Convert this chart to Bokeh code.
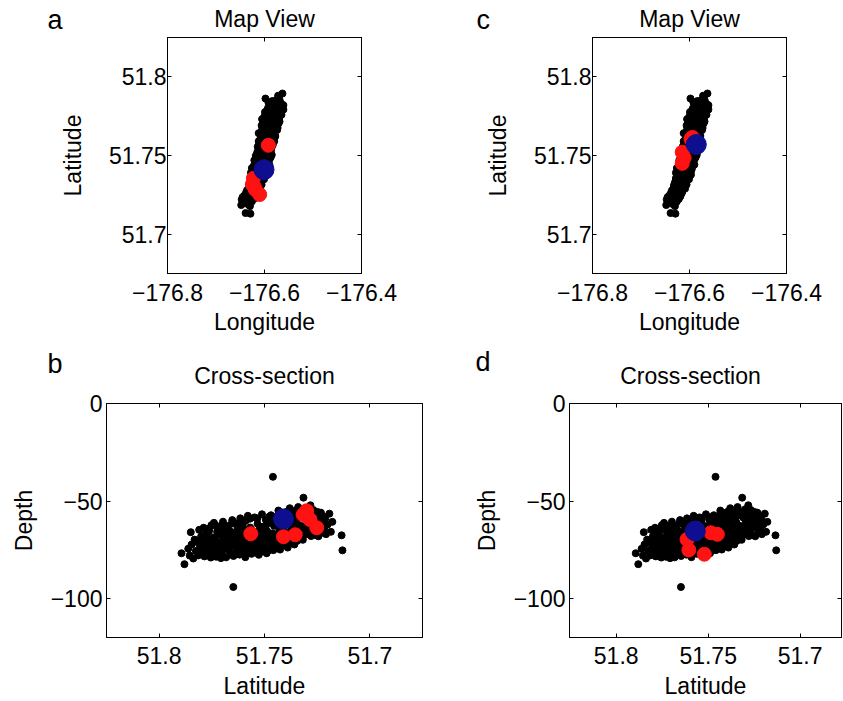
from bokeh.plotting import figure
from bokeh.layouts import column, row
from bokeh.models import Range1d, FixedTicker, LinearAxis, CustomJSTickFormatter, Label
from bokeh.embed import file_html
from bokeh.resources import INLINE

FONT = "Liberation Sans"

# ---- background catalogue: latitude, longitude, depth (km, negative down) ----
lat = [
    51.7894, 51.7880, 51.7862, 51.7855, 51.7850, 51.7846, 51.7838, 51.7832, 51.7826, 51.7820, 51.7815, 51.7810,
    51.7806, 51.7801, 51.7797, 51.7792, 51.7789, 51.7785, 51.7781, 51.7778, 51.7774, 51.7770, 51.7766, 51.7763,
    51.7759, 51.7755, 51.7752, 51.7750,
    51.7746, 51.7743, 51.7740, 51.7736, 51.7733, 51.7729, 51.7725, 51.7722, 51.7718, 51.7715, 51.7711, 51.7708,
    51.7704, 51.7700, 51.7697, 51.7693, 51.7690, 51.7686, 51.7682, 51.7679, 51.7675, 51.7671, 51.7668, 51.7664,
    51.7660, 51.7657, 51.7653, 51.7650,
    51.7647, 51.7644, 51.7640, 51.7636, 51.7633, 51.7629, 51.7626, 51.7622, 51.7618, 51.7615, 51.7611, 51.7608,
    51.7604, 51.7600, 51.7597, 51.7593, 51.7590, 51.7586, 51.7582, 51.7579, 51.7575, 51.7572, 51.7568, 51.7565,
    51.7561, 51.7558, 51.7554, 51.7551, 51.7648,
    51.7547, 51.7544, 51.7540, 51.7537, 51.7533, 51.7530, 51.7526, 51.7522, 51.7519, 51.7515, 51.7512, 51.7508,
    51.7504, 51.7501, 51.7497, 51.7494, 51.7490, 51.7487, 51.7483, 51.7479, 51.7476, 51.7472, 51.7469, 51.7465,
    51.7462, 51.7458, 51.7455, 51.7451, 51.7460,
    51.7448, 51.7444, 51.7441, 51.7437, 51.7434, 51.7430, 51.7426, 51.7423, 51.7419, 51.7416, 51.7412, 51.7408,
    51.7405, 51.7401, 51.7398, 51.7394, 51.7390, 51.7387, 51.7383, 51.7380, 51.7376, 51.7372, 51.7369, 51.7365,
    51.7362, 51.7358, 51.7355, 51.7351,
    51.7347, 51.7344, 51.7340, 51.7336, 51.7333, 51.7329, 51.7326, 51.7322, 51.7318, 51.7315, 51.7311, 51.7308,
    51.7304, 51.7300, 51.7297, 51.7293, 51.7290, 51.7286, 51.7282, 51.7279, 51.7275, 51.7271, 51.7268, 51.7264,
    51.7260, 51.7256,
    51.7252, 51.7248, 51.7244, 51.7240, 51.7236, 51.7232, 51.7228, 51.7224, 51.7220, 51.7216, 51.7212, 51.7208,
    51.7200, 51.7192, 51.7185, 51.7178,
    51.7134, 51.7130,
    51.7776, 51.7768, 51.7761, 51.7748, 51.7739, 51.7731, 51.7724, 51.7716, 51.7707, 51.7699, 51.7691, 51.7684,
    51.7677, 51.7669, 51.7662, 51.7655, 51.7642, 51.7635, 51.7627, 51.7620, 51.7613, 51.7606, 51.7598, 51.7591,
    51.7584, 51.7577, 51.7569, 51.7563, 51.7556, 51.7549, 51.7541, 51.7534, 51.7527, 51.7520, 51.7513, 51.7505,
    51.7498, 51.7491, 51.7484, 51.7477, 51.7470, 51.7463, 51.7456, 51.7449, 51.7442, 51.7435, 51.7427, 51.7420,
    51.7413, 51.7406, 51.7399, 51.7391, 51.7384, 51.7377, 51.7370, 51.7363, 51.7356, 51.7349,
]
lon = [
    -176.563, -176.572, -176.598, -176.569, -176.577, -176.584, -176.592, -176.566, -176.579, -176.561, -176.588, -176.574,
    -176.581, -176.593, -176.572, -176.561, -176.586, -176.578, -176.596, -176.569, -176.583, -176.590, -176.575, -176.598,
    -176.565, -176.587, -176.580, -176.592,
    -176.577, -176.601, -176.585, -176.570, -176.594, -176.582, -176.599, -176.574, -176.588, -176.603, -176.579, -176.592,
    -176.571, -176.586, -176.597, -176.581, -176.576, -176.602, -176.590, -176.584, -176.573, -176.596, -176.588, -176.605,
    -176.579, -176.593, -176.584, -176.600,
    -176.587, -176.608, -176.580, -176.596, -176.590, -176.603, -176.578, -176.594, -176.585, -176.606, -176.599, -176.582,
    -176.591, -176.609, -176.588, -176.597, -176.580, -176.602, -176.593, -176.586, -176.611, -176.599, -176.583, -176.605,
    -176.592, -176.589, -176.601, -176.610, -176.598,
    -176.595, -176.586, -176.607, -176.600, -176.590, -176.613, -176.597, -176.587, -176.604, -176.611, -176.593, -176.600,
    -176.585, -176.616, -176.598, -176.606, -176.591, -176.612, -176.602, -176.589, -176.609, -176.596, -176.615, -176.603,
    -176.592, -176.610, -176.599, -176.606, -176.597,
    -176.594, -176.616, -176.603, -176.611, -176.598, -176.620, -176.607, -176.600, -176.614, -176.595, -176.609, -176.621,
    -176.603, -176.612, -176.597, -176.617, -176.606, -176.623, -176.600, -176.613, -176.608, -176.619, -176.602, -176.625,
    -176.611, -176.616, -176.605, -176.621,
    -176.612, -176.628, -176.608, -176.621, -176.615, -176.630, -176.610, -176.624, -176.617, -176.606, -176.632, -176.620,
    -176.613, -176.627, -176.618, -176.633, -176.609, -176.625, -176.619, -176.636, -176.614, -176.628, -176.622, -176.638,
    -176.616, -176.630,
    -176.624, -176.641, -176.633, -176.619, -176.645, -176.627, -176.636, -176.622, -176.647, -176.631, -176.640, -176.626,
    -176.644, -176.635, -176.648, -176.630,
    -176.639, -176.629,
    -176.599, -176.568, -176.584, -176.594, -176.578, -176.605, -176.589, -176.569, -176.598, -176.583, -176.606, -176.577,
    -176.592, -176.600, -176.574, -176.589, -176.612, -176.583, -176.599, -176.578, -176.591, -176.604, -176.584, -176.612,
    -176.590, -176.603, -176.596, -176.584, -176.614, -176.591, -176.596, -176.604, -176.588, -176.615, -176.603, -176.595,
    -176.618, -176.587, -176.609, -176.600, -176.621, -176.594, -176.614, -176.601, -176.590, -176.622, -176.603, -176.626,
    -176.598, -176.617, -176.605, -176.628, -176.610, -176.597, -176.624, -176.606, -176.628, -176.601,
]
depth = [
    -76.8, -82.4, -74.5, -78.0, -66.0, -72.3, -79.5, -69.8, -75.6, -71.0, -77.9, -64.8,
    -73.4, -68.2, -76.1, -70.5, -63.7, -78.4, -71.9, -66.5, -74.8, -69.1, -77.2, -65.3,
    -72.6, -79.0, -62.4, -75.3,
    -68.7, -73.9, -61.2, -76.5, -70.2, -78.6, -65.8, -72.1, -67.3, -75.7, -63.0, -71.4,
    -74.2, -77.8, -60.6, -69.5, -73.0, -66.4, -78.9, -62.8, -70.9, -75.1, -64.7, -72.8,
    -68.0, -76.9, -59.8, -71.6,
    -78.2, -66.1, -73.5, -61.9, -69.8, -75.4, -64.3, -71.2, -77.5, -58.9, -68.6, -74.0,
    -62.5, -72.4, -66.9, -76.3, -60.2, -70.0, -73.7, -57.6, -67.5, -75.8, -63.6, -71.0,
    -77.1, -65.2, -69.4, -74.6, -94.1,
    -58.4, -72.9, -66.2, -76.4, -61.7, -70.6, -74.3, -64.0, -68.9, -75.9, -56.8, -71.8,
    -63.1, -73.2, -67.0, -59.6, -76.8, -65.5, -70.3, -61.0, -74.7, -68.1, -57.3, -72.0,
    -66.6, -75.2, -62.7, -69.3, -37.6,
    -73.6, -58.1, -67.8, -71.5, -54.9, -64.6, -74.9, -60.3, -69.0, -56.2, -72.7, -63.4,
    -66.7, -58.8, -70.8, -55.5, -73.9, -61.6, -68.2, -53.7, -71.1, -64.9, -57.8, -69.7,
    -62.1, -72.3, -55.0, -66.0,
    -60.9, -70.4, -53.1, -65.3, -57.4, -68.6, -62.8, -55.9, -69.9, -48.3, -64.1, -58.6,
    -67.2, -54.3, -61.5, -66.8, -56.7, -63.7, -52.2, -68.0, -59.9, -65.0, -54.6, -62.3,
    -57.2, -67.5,
    -60.4, -55.6, -68.1, -58.3, -63.9, -56.0, -66.3, -61.2, -57.9, -64.6, -59.1, -67.0,
    -62.0, -56.5, -65.8, -60.7,
    -67.6, -75.3,
    -67.9, -71.7, -64.1, -76.0, -69.9, -62.6, -73.3, -66.1, -79.3, -70.4, -64.0, -74.5,
    -67.6, -72.3, -77.4, -61.4, -70.7, -67.0, -76.7, -60.9, -73.1, -65.6, -70.8, -78.8,
    -64.9, -72.0, -59.1, -68.3, -75.0, -66.5, -70.1, -59.0, -77.6, -63.3, -73.8, -66.4,
    -71.0, -62.2, -75.6, -58.0, -69.6, -73.5, -60.8, -67.7, -70.0, -61.0, -66.2, -57.1,
    -63.0, -71.9, -60.4, -67.4, -57.0, -65.8, -70.5, -59.6, -63.5, -68.9,
]

# ---- first sequence (panels a, b) ----
red1_lat = [51.7565, 51.7410, 51.7354, 51.7316, 51.7300, 51.7284, 51.7252]
red1_lon = [-176.592, -176.603, -176.623, -176.625, -176.621, -176.619, -176.610]
red1_dep = [-66.8, -68.3, -67.3, -57.0, -55.0, -59.5, -63.7]
blue1_lat = [51.7410]
blue1_lon = [-176.601]
blue1_dep = [-59.2]

# ---- second sequence (panels c, d) ----
red2_lat = [51.7615, 51.7605, 51.7521, 51.7485, 51.7450]
red2_lon = [-176.594, -176.597, -176.615, -176.611, -176.615]
red2_dep = [-69.7, -75.1, -77.3, -66.3, -67.1]
blue2_lat = [51.7570]
blue2_lon = [-176.586]
blue2_dep = [-65.4]

lon_ticks = [-176.8, -176.6, -176.4]
lat_ticks = [51.7, 51.75, 51.8]
depth_ticks = [-100, -50, 0]

RED = "#ff1212"
BLUE = "#0e0e90"

num_fmt = CustomJSTickFormatter(code="const v = Math.round(tick * 1000) / 1000; return String(v).replace('-', '\u2212');")


def style_axes(p, xticks, yticks, xlabel, ylabel, x_stand, y_stand, xl_stand, yl_stand):
    p.grid.visible = False
    p.outline_line_color = "black"
    p.background_fill_color = "white"
    p.border_fill_color = "white"
    for ax, ticks in ((p.xaxis[0], xticks), (p.yaxis[0], yticks)):
        ax.ticker = FixedTicker(ticks=ticks)
        ax.formatter = num_fmt
        ax.major_tick_in = 4
        ax.major_tick_out = 0
        ax.minor_tick_out = 0
        ax.minor_tick_line_color = None
        ax.axis_line_color = "black"
        ax.major_tick_line_color = "black"
        ax.major_label_text_font = FONT
        ax.major_label_text_font_size = "23px"
        ax.major_label_text_color = "black"
        ax.axis_label_text_font = FONT
        ax.axis_label_text_font_size = "23px"
        ax.axis_label_text_font_style = "normal"
        ax.axis_label_text_color = "black"
    p.xaxis[0].axis_label = xlabel
    p.yaxis[0].axis_label = ylabel
    p.xaxis[0].major_label_standoff = x_stand
    p.yaxis[0].major_label_standoff = y_stand
    p.xaxis[0].axis_label_standoff = xl_stand
    p.yaxis[0].axis_label_standoff = yl_stand
    # tick marks on the opposite edges of the box
    for side, ticks in (("above", xticks), ("right", yticks)):
        ax = LinearAxis(ticker=FixedTicker(ticks=ticks),
                        formatter=CustomJSTickFormatter(code="return '';"))
        ax.major_tick_in = 4
        ax.major_tick_out = 0
        ax.minor_tick_out = 0
        ax.minor_tick_line_color = None
        ax.major_label_text_font_size = "1px"
        ax.major_label_standoff = 0
        ax.axis_line_color = "black"
        p.add_layout(ax, side)


def header(height, items):
    # strip of panel letters and titles above a row of panels
    h = figure(width=843, height=height, x_range=Range1d(0, 1), y_range=Range1d(0, 1),
               x_axis_type=None, y_axis_type=None, min_border=0,
               toolbar_location=None, output_backend="svg")
    h.grid.visible = False
    h.outline_line_color = None
    for x, y, text, size, align in items:
        h.add_layout(Label(x=x, y=y, x_units="screen", y_units="screen", text=text,
                           text_font=FONT, text_font_size=size, text_color="black",
                           text_align=align, text_baseline="alphabetic"))
    return h


def map_panel(width, right, rlat, rlon, blat, blon):
    p = figure(width=width, height=305, x_range=Range1d(-176.8, -176.4), y_range=Range1d(51.675, 51.825),
               min_border_left=167, min_border_right=right, min_border_top=2, min_border_bottom=67,
               toolbar_location=None, output_backend="svg")
    style_axes(p, lon_ticks, lat_ticks, "Longitude", "Latitude", 10, 1, 5, 20)
    p.scatter(lon, lat, size=7, color="black")
    p.scatter(rlon, rlat, size=14, color=RED)
    p.scatter(blon, blat, size=20, color=BLUE)
    return p


def section_panel(width, left, right, xr, rlat, rdep, blat, bdep):
    p = figure(width=width, height=312, x_range=xr, y_range=Range1d(-120, 0),
               min_border_left=left, min_border_right=right, min_border_top=14, min_border_bottom=62,
               toolbar_location=None, output_backend="svg")
    style_axes(p, lat_ticks, depth_ticks, "Latitude", "Depth", 9, 4, 6, 11)
    p.scatter(lat, depth, size=7, color="black")
    p.scatter(rlat, rdep, size=14, color=RED)
    p.scatter(blat, bdep, size=20, color=BLUE)
    return p


head1 = header(35, [(47, 16, "a", "27px", "left"), (264, 17, "Map View", "23px", "center"),
                    (476, 16, "c", "27px", "left"), (689, 17, "Map View", "23px", "center")])
head2 = header(49, [(47, 26, "b", "27px", "left"), (264, 14, "Cross-section", "23px", "center"),
                    (475, 28, "d", "27px", "left"), (690, 14, "Cross-section", "23px", "center")])

pa = map_panel(425, 64, red1_lat, red1_lon, blue1_lat, blue1_lon)
pc = map_panel(418, 57, red2_lat, red2_lon, blue2_lat, blue2_lon)
pb = section_panel(470, 106, 48, Range1d(51.825, 51.675), red1_lat, red1_dep, blue1_lat, blue1_dep)
pd = section_panel(373, 62, 2, Range1d(51.8254, 51.6775), red2_lat, red2_dep, blue2_lat, blue2_dep)

layout = column(head1, row(pa, pc), head2, row(pb, pd))
open("out.html", "w").write(file_html(layout, INLINE))
